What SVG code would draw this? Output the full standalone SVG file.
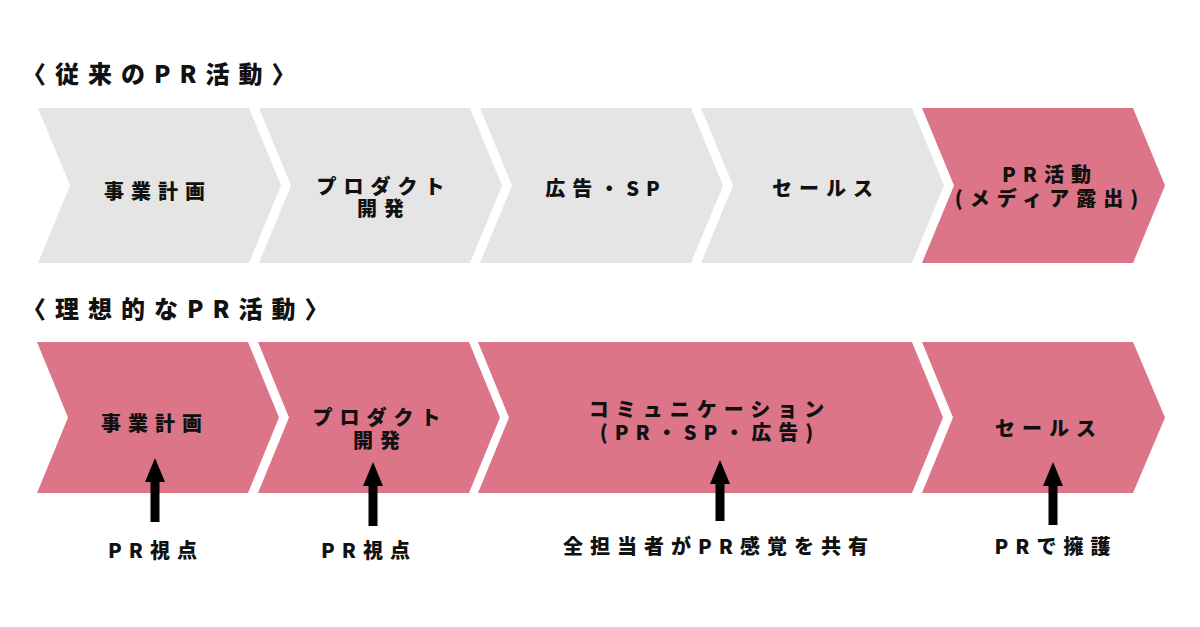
<svg xmlns="http://www.w3.org/2000/svg" width="1200" height="627" viewBox="0 0 1200 627">
<style>
.gray{fill:#e5e5e5}
.pink{fill:#dc7588}
.t{font-family:"Noto Sans CJK JP","Noto Sans",sans-serif;font-weight:900;fill:#111;letter-spacing:7px;font-size:20px;text-anchor:middle}
.title{font-family:"Noto Sans CJK JP","Noto Sans",sans-serif;font-weight:900;fill:#111;letter-spacing:9px;font-size:24px}
.arr{stroke:#000;stroke-width:9;fill:none}
</style>
<defs>
<marker id="ah" viewBox="0 0 24 20" refX="0" refY="10" markerWidth="24" markerHeight="20" markerUnits="userSpaceOnUse" orient="auto">
<path d="M0,0 L24,10 L0,20 Z" fill="#000"/>
</marker>
</defs>
<rect width="1200" height="627" fill="#fff"/>
<text class="title" x="22" y="83">〈従来のPR活動〉</text>
<text class="title" x="22" y="318">〈理想的なPR活動〉</text>

<g id="top-1"><polygon class="gray" points="38,108 249,108 281,185.5 249,263 38,263 70,185.5"/><text class="t" x="158" y="199">事業計画</text></g>
<g id="top-2"><polygon class="gray" points="259,108 470,108 502,185.5 470,263 259,263 291,185.5"/><text class="t" y="194"><tspan x="384">プロダクト</tspan><tspan x="384" dy="22">開発</tspan></text></g>
<g id="top-3"><polygon class="gray" points="480,108 691,108 723,185.5 691,263 480,263 512,185.5"/><text class="t" x="606" y="196">広告・SP</text></g>
<g id="top-4"><polygon class="gray" points="701,108 912,108 944,185.5 912,263 701,263 733,185.5"/><text class="t" x="826" y="196">セールス</text></g>
<g id="top-5"><polygon class="pink" points="922,108 1133,108 1165,185.5 1133,263 922,263 954,185.5"/><text class="t" y="182"><tspan x="1050">PR活動</tspan><tspan x="1050" dy="24">(メディア露出)</tspan></text></g>

<g id="bot-1"><polygon class="pink" points="37,342 248,342 279,417.5 248,493 37,493 68,417.5"/><text class="t" x="155" y="431">事業計画</text></g>
<g id="bot-2"><polygon class="pink" points="258,342 469,342 500,417.5 469,493 258,493 289,417.5"/><text class="t" y="425"><tspan x="380">プロダクト</tspan><tspan x="380" dy="23">開発</tspan></text></g>
<g id="bot-3"><polygon class="pink" points="478,342 912,342 943,417.5 912,493 478,493 509,417.5"/><text class="t" y="417"><tspan x="710">コミュニケーション</tspan><tspan x="710" dy="23">(PR・SP・広告)</tspan></text></g>
<g id="bot-4"><polygon class="pink" points="922,342 1133,342 1165,417.5 1133,493 922,493 953,417.5"/><text class="t" x="1049" y="436">セールス</text></g>

<g id="connectors">
<line class="arr" x1="155" y1="522" x2="155" y2="482" marker-end="url(#ah)"/>
<line class="arr" x1="373" y1="526" x2="373" y2="486" marker-end="url(#ah)"/>
<line class="arr" x1="720" y1="521" x2="720" y2="484" marker-end="url(#ah)"/>
<line class="arr" x1="1053" y1="525" x2="1053" y2="486" marker-end="url(#ah)"/>
</g>

<g id="label-1"><text class="t" x="156" y="558">PR視点</text></g>
<g id="label-2"><text class="t" x="369" y="558">PR視点</text></g>
<g id="label-3"><text class="t" x="719" y="554">全担当者がPR感覚を共有</text></g>
<g id="label-4"><text class="t" x="1056" y="554">PRで擁護</text></g>
</svg>
